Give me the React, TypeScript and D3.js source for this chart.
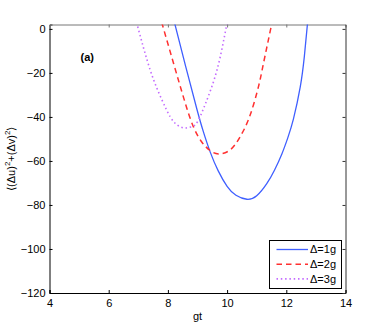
import React, { useEffect, useRef } from 'react';
import * as d3 from 'd3';

// values (gt, <(du)^2+(dv)^2>)
const delta1g: [number, number][] = [
  [8.22, 3], [8.6, -17], [8.98, -36.5], [9.2, -46.8], [9.43, -56], [9.7, -64.5],
  [10.0, -71.5], [10.3, -75.6], [10.67, -77.4], [11.0, -75.8], [11.34, -70.3],
  [11.6, -64.2], [11.85, -56.8], [12.05, -49.5], [12.24, -41], [12.47, -26.5],
  [12.61, -12.5], [12.72, 3],
];
const delta2g: [number, number][] = [
  [7.79, 3], [8.19, -15.6], [8.57, -33], [8.86, -44.4], [9.15, -51.5], [9.43, -55.3],
  [9.71, -56.8], [10.1, -55], [10.44, -49], [10.77, -39.5], [11.06, -26.2],
  [11.23, -15.6], [11.52, 3],
];
const delta3g: [number, number][] = [
  [6.94, 3], [7.4, -18.6], [7.8, -32.3], [8.08, -40], [8.3, -43.5], [8.53, -45],
  [8.72, -44.7], [8.92, -43.6], [9.1, -39.5], [9.28, -33.6], [9.66, -18.6], [10.0, 3],
];

const seriesNames = ['\u0394=1g', '\u0394=2g', '\u0394=3g'];
const xTicks = [4, 6, 8, 10, 12, 14];
const yTicks = [-120, -100, -80, -60, -40, -20, 0];

const App = () => {
  const chartRef = useRef<SVGSVGElement | null>(null);

  useEffect(() => {
    const width = 382;
    const height = 330;
    const left = 49.5, right = 345.5, top = 24.5, bottom = 293; // plot box
    const font = 'Liberation Sans, Arial, Helvetica, sans-serif';

    const svg = d3.select(chartRef.current);
    svg.selectAll('*').remove();
    svg.attr('width', width).attr('height', height);

    svg.append('rect').attr('width', width).attr('height', height).attr('fill', '#fff');

    const x = d3.scaleLinear().domain([4, 14]).range([left, right]);
    const y = d3.scaleLinear().domain([-120, 2]).range([bottom, top]);

    svg.append('defs').append('clipPath').attr('id', 'plotclip')
      .append('rect').attr('x', left).attr('y', top)
      .attr('width', right - left).attr('height', bottom - top);

    // axes, ticks pointing inward like matlab
    const styleAxis = (g: any, showText: boolean) => {
      g.select('.domain').attr('stroke', '#000');
      g.selectAll('.tick line').attr('stroke', '#000');
      g.selectAll('text')
        .attr('font-family', font)
        .attr('font-size', 11)
        .attr('fill', '#000')
        .style('display', showText ? null : 'none');
    };

    const fmt = (d: any) => d3.format('')(d).replace('-', '\u2212');

    svg.append('g').attr('transform', `translate(0,${bottom})`)
      .call(d3.axisBottom(x).tickValues(xTicks).tickSize(-3).tickPadding(6).tickFormat(fmt as any))
      .call((g: any) => styleAxis(g, true));
    svg.append('g').attr('transform', `translate(${left},0)`)
      .call(d3.axisLeft(y).tickValues(yTicks).tickSize(-3).tickPadding(4).tickFormat(fmt as any))
      .call((g: any) => styleAxis(g, true));
    svg.append('g').attr('transform', `translate(0,${top})`)
      .call(d3.axisTop(x).tickValues(xTicks).tickSize(-3).tickSizeOuter(0))
      .call((g: any) => styleAxis(g, false))
      .call((g: any) => g.selectAll('.domain, .tick line').attr('stroke', '#777'));
    svg.append('g').attr('transform', `translate(${right},0)`)
      .call(d3.axisRight(y).tickValues(yTicks).tickSize(-3).tickSizeOuter(0))
      .call((g: any) => styleAxis(g, false))
      .call((g: any) => g.selectAll('.domain, .tick line').attr('stroke', '#333'));

    // natural cubic spline keeps the parabolas smooth
    const line = d3.line<[number, number]>()
      .x(d => x(d[0]))
      .y(d => y(d[1]))
      .curve(d3.curveNatural);

    const curves = [
      { data: delta1g, color: '#3f5fff', dash: null, w: 1.3 },
      { data: delta2g, color: '#ff3030', dash: '5.5,4', w: 1.5 },
      { data: delta3g, color: '#c36bff', dash: '1.5,2.8', w: 1.6 },
    ];

    const plot = svg.append('g').attr('clip-path', 'url(#plotclip)');
    curves.forEach(c => {
      plot.append('path')
        .attr('d', line(c.data))
        .attr('fill', 'none')
        .attr('stroke', c.color)
        .attr('stroke-width', c.w)
        .attr('stroke-dasharray', c.dash);
    });

    // panel tag
    svg.append('text')
      .attr('x', x(5.05))
      .attr('y', y(-14.5))
      .attr('font-family', font)
      .attr('font-size', 11)
      .attr('font-weight', 'bold')
      .text('(a)');

    // axis labels
    svg.append('text')
      .attr('x', (left + right) / 2)
      .attr('y', 320)
      .attr('text-anchor', 'middle')
      .attr('font-family', font)
      .attr('font-size', 11)
      .text('gt');

    const yl = svg.append('text')
      .attr('transform', `translate(15,${(top + bottom) / 2}) rotate(-90)`)
      .attr('text-anchor', 'middle')
      .attr('font-family', font)
      .attr('font-size', 11);
    yl.append('tspan').text('\u27E8(\u0394u)');
    yl.append('tspan').attr('font-size', 8).attr('dy', -5).text('2');
    yl.append('tspan').attr('dy', 5).text('+(\u0394v)');
    yl.append('tspan').attr('font-size', 8).attr('dy', -5).text('2');
    yl.append('tspan').attr('dy', 5).text('\u27E9');

    // legend
    const lg = svg.append('g');
    lg.append('rect')
      .attr('x', 269.5).attr('y', 240.5)
      .attr('width', 72).attr('height', 48)
      .attr('fill', '#fff')
      .attr('stroke', '#000');
    curves.forEach((c, i) => {
      const ry = 249.5 + i * 14.7;
      lg.append('line')
        .attr('x1', 276.5).attr('x2', 308)
        .attr('y1', ry).attr('y2', ry)
        .attr('stroke', c.color)
        .attr('stroke-width', c.w)
        .attr('stroke-dasharray', c.dash);
      lg.append('text')
        .attr('x', 310).attr('y', ry)
        .attr('dy', '0.35em')
        .attr('font-family', font)
        .attr('font-size', 11)
        .text(seriesNames[i]);
    });

    return () => {
      svg.selectAll('*').remove();
    };
  }, []);

  return (
    <div style={{ position: 'absolute', left: 0, top: 0 }}>
      <svg ref={chartRef} style={{ display: 'block' }} />
    </div>
  );
};

export default App;
